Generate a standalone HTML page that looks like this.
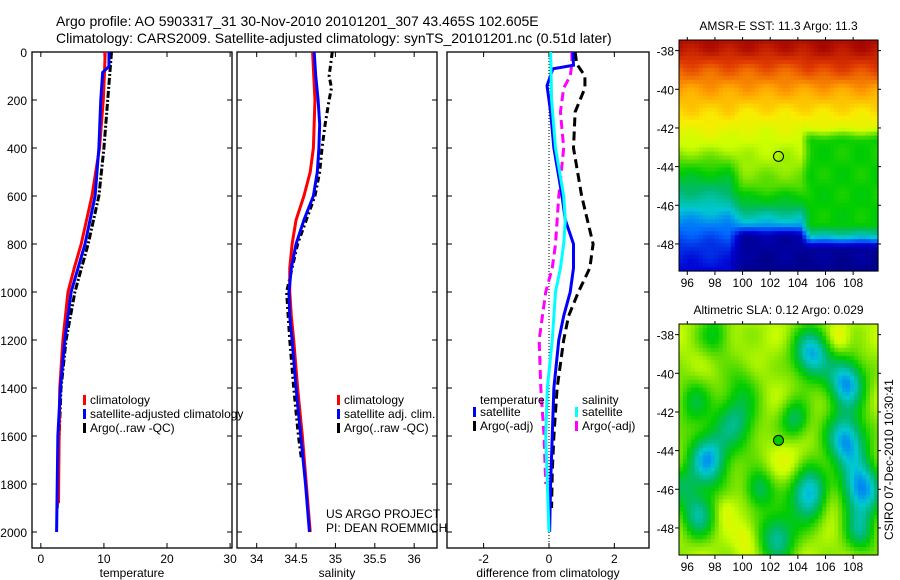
<!DOCTYPE html>
<html><head><meta charset="utf-8">
<style>
body{margin:0;background:#fff;}
svg{display:block;font-family:"Liberation Sans",sans-serif;}
</style></head>
<body>
<svg id="fig" width="900" height="580" viewBox="0 0 900 580" xmlns="http://www.w3.org/2000/svg">
<text x="56" y="26" font-size="14">Argo profile: AO 5903317_31 30-Nov-2010 20101201_307 43.465S 102.605E</text>
<text x="56" y="43" font-size="14">Climatology: CARS2009. Satellite-adjusted climatology: synTS_20101201.nc (0.51d later)</text>
<g id="p1"></g>
<g id="p2"></g>
<g id="p3"></g>
<g id="m1"></g>
<g id="m2"></g>
<text transform="translate(893,540) rotate(-90)" font-size="12">CSIRO 07-Dec-2010 10:30:41</text>
</svg>
<script>
// ---- data ----
const depthTicks=[0,200,400,600,800,1000,1200,1400,1600,1800,2000];
const tempTicks=[0,10,20,30];
const salTicks=[34,34.5,35,35.5,36];
const diffTicks=[-2,0,2];
const tClimD=[0,80,200,400,600,800,900,1000,1200,1400,1600,1880];
const tClimV=[10.2,10.1,9.9,9.3,8.1,6.4,5.3,4.3,3.5,3.0,2.9,2.8];
const tSatD=[0,60,85,200,400,600,800,1000,1200,1400,1600,1800,2000];
const tSatV=[10.8,10.8,9.8,9.5,9.2,8.6,7.0,4.8,3.8,3.1,2.7,2.6,2.5];
const tArgoD=[0,100,200,400,600,800,1000,1200,1400,1600,1800,1900];
const tArgoV=[11.2,10.9,10.6,10.0,9.2,7.5,5.4,4.0,3.2,2.9,2.7,2.6];
const sClimD=[0,200,400,500,600,700,800,900,1000,1100,1200,1400,1600,1800,2000];
const sClimV=[34.71,34.74,34.72,34.68,34.6,34.5,34.45,34.42,34.42,34.44,34.47,34.52,34.58,34.63,34.68];
const sSatD=[0,100,200,300,400,500,600,700,800,900,1000,1100,1200,1400,1600,1800,2000];
const sSatV=[34.73,34.75,34.78,34.8,34.79,34.77,34.72,34.6,34.5,34.44,34.41,34.42,34.45,34.5,34.56,34.62,34.67];
const sArgoD=[0,100,150,200,300,400,500,600,700,800,900,1000,1100,1200,1400,1600,1700];
const sArgoV=[34.96,34.92,34.95,34.92,34.87,34.83,34.8,34.74,34.63,34.52,34.45,34.38,34.4,34.42,34.47,34.53,34.57];
const dTSatD=[0,55,70,140,250,400,600,700,800,900,1000,1100,1200,1400,1600,1800,2000];
const dTSatV=[0.73,0.75,0.12,-0.06,0.05,0.15,0.4,0.5,0.75,0.75,0.65,0.45,0.3,0.15,0.1,0.05,0.02];
const dSSatD=[0,200,400,600,700,800,900,1000,1200,1400,1600,1800,2000];
const dSSatV=[0.05,0.08,0.2,0.45,0.5,0.45,0.35,0.2,0.1,-0.05,-0.1,-0.05,0.0];
const dTArgoD=[0,50,100,150,250,400,600,800,900,1000,1100,1200,1400,1600,1750,1900];
const dTArgoV=[0.8,0.85,1.1,1.1,0.8,0.75,1.0,1.35,1.25,0.9,0.6,0.45,0.25,0.15,0.1,0.08];
const dSArgoD=[0,50,100,150,250,400,600,800,900,1000,1100,1200,1400,1600,1800];
const dSArgoV=[0.7,0.7,0.65,0.45,0.35,0.45,0.3,0.2,0.1,-0.1,-0.2,-0.3,-0.25,-0.15,-0.1];
const lonTicks=[96,98,100,102,104,106,108];
const latTicks=[-38,-40,-42,-44,-46,-48];

const NS='http://www.w3.org/2000/svg';
function mk(tag,attrs,parent){const e=document.createElementNS(NS,tag);for(const k in attrs)e.setAttribute(k,attrs[k]);parent.appendChild(e);return e;}
const plotTop=52,plotBot=548;
const yD=d=>52+d*0.24;

function panel(g,x0,x1,vmin,vmax,xt,xlabel,leftLabels){
  const xs=v=>x0+(v-vmin)/(vmax-vmin)*(x1-x0);
  const fr=mk('rect',{x:x0,y:plotTop,width:x1-x0,height:plotBot-plotTop,fill:'none',stroke:'#000','stroke-width':1.3},g);
  
  
  depthTicks.forEach(d=>{
    mk('line',{x1:x0,x2:x0+5,y1:yD(d),y2:yD(d),stroke:'#000'},g);
    mk('line',{x1:x1,x2:x1-5,y1:yD(d),y2:yD(d),stroke:'#000'},g);
    if(leftLabels){const t=mk('text',{x:x0-5,y:yD(d)+5,'font-size':12,'text-anchor':'end'},g);t.textContent=d;
      
      }
  });
  xt.forEach(v=>{
    mk('line',{x1:xs(v),x2:xs(v),y1:plotBot,y2:plotBot-5,stroke:'#000'},g);
    mk('line',{x1:xs(v),x2:xs(v),y1:plotTop,y2:plotTop+5,stroke:'#000'},g);
    const t=mk('text',{x:xs(v),y:plotBot+15,'font-size':12,'text-anchor':'middle'},g);t.textContent=v;
    
    
  });
  const xl=mk('text',{x:(x0+x1)/2,y:plotBot+29,'font-size':12,'text-anchor':'middle'},g);xl.textContent=xlabel;
  
  
  return xs;
}
function line(g,xs,D,V,color,dash,name,w){
  const p=mk('polyline',{points:D.map((d,i)=>xs(V[i])+','+yD(d)).join(' '),fill:'none',stroke:color,'stroke-width':w||3,'stroke-dasharray':dash||'none'},g);
  
  
}
function legend(g,x,y,items){
  items.forEach((it,i)=>{
    mk('rect',{x:x,y:y+i*14-9,width:3,height:10,fill:it[1]},g);
    const t=mk('text',{x:x+7,y:y+i*14,'font-size':12},g);t.textContent=it[0];
    
    
  });
}
// panel 1
const g1=document.getElementById('p1');
const xs1=panel(g1,32,232,-1.4,30.3,tempTicks,'temperature',true);
line(g1,xs1,tArgoD,tArgoV,'#000','7,2,2,2','argo-temperature-line');
line(g1,xs1,tClimD,tClimV,'#f00',null,'climatology-temperature-line');
line(g1,xs1,tSatD,tSatV,'#00f',null,'satellite-temperature-line');
legend(g1,83,404,[['climatology','#f00'],['satellite-adjusted climatology','#00f'],['Argo(..raw -QC)','#000']]);
// panel 2
const g2=document.getElementById('p2');
const xs2=panel(g2,237,437,33.75,36.29,salTicks,'salinity',false);
line(g2,xs2,sArgoD,sArgoV,'#000','6,3,2,3','argo-salinity-line');
line(g2,xs2,sClimD,sClimV,'#f00',null,'climatology-salinity-line');
line(g2,xs2,sSatD,sSatV,'#00f',null,'satellite-salinity-line');
legend(g2,337,404,[['climatology','#f00'],['satellite adj. clim.','#00f'],['Argo(..raw -QC)','#000']]);
const pi1=mk('text',{x:326,y:518,'font-size':12},g2);pi1.textContent='US ARGO PROJECT';


const pi2=mk('text',{x:326,y:532,'font-size':12},g2);pi2.textContent='PI: DEAN ROEMMICH';


// panel 3
const g3=document.getElementById('p3');
const xs3=panel(g3,447,649,-3.12,3.06,diffTicks,'difference from climatology',false);
mk('line',{x1:xs3(0),x2:xs3(0),y1:plotTop,y2:plotBot,stroke:'#000','stroke-dasharray':'1,2'},g3);
line(g3,xs3,dTArgoD,dTArgoV,'#000','9,5','argo-temperature-diff-line');
line(g3,xs3,dSArgoD,dSArgoV,'#f0f','9,5','argo-salinity-diff-line');
line(g3,xs3,dTSatD,dTSatV,'#00f',null,'satellite-temperature-diff-line');
line(g3,xs3,dSSatD,dSSatV,'#0ff',null,'satellite-salinity-diff-line');
const lt=mk('text',{x:480,y:404,'font-size':12},g3);lt.textContent='temperature';


const ls=mk('text',{x:582,y:404,'font-size':12},g3);ls.textContent='salinity';


legend(g3,473,416,[['satellite','#00f'],['Argo(-adj)','#000']]);
legend(g3,575,416,[['satellite','#0ff'],['Argo(-adj)','#f0f']]);

// maps
const cmStops=[[0,[0,0,120]],[0.12,[0,0,210]],[0.24,[0,110,255]],[0.34,[0,200,210]],[0.43,[0,185,110]],[0.52,[0,205,0]],[0.6,[110,225,0]],[0.67,[205,255,0]],[0.74,[250,235,0]],[0.82,[255,160,0]],[0.91,[225,60,0]],[1,[160,0,0]]];
function cmap(v){v=Math.max(0,Math.min(1,v));
  for(let i=1;i<cmStops.length;i++){if(v<=cmStops[i][0]){const a=cmStops[i-1],b=cmStops[i],f=(v-a[0])/(b[0]-a[0]);
    return 'rgb('+a[1].map((c,k)=>Math.round(c+(b[1][k]-c)*f)).join(',')+')';}}
  return 'rgb(160,0,0)';}
function map(g,x0,y0,title,field,dotColor,name){
  const w=199,h=231,lonMin=95.4,lonMax=109.8,latTop=-37.45,latBot=-49.4;
  const xs=l=>x0+(l-lonMin)/(lonMax-lonMin)*w, ys=l=>y0+(latTop-l)/(latTop-latBot)*h;
  const nx=50,ny=58;
  for(let i=0;i<nx;i++)for(let j=0;j<ny;j++){
    const lon=lonMin+(i+0.5)/nx*(lonMax-lonMin), lat=latTop-(j+0.5)/ny*(latTop-latBot);
    mk('rect',{x:x0+i*w/nx,y:y0+j*h/ny,width:w/nx+0.6,height:h/ny+0.6,fill:cmap(field(lon,lat))},g);
  }
  const fr=mk('rect',{x:x0,y:y0,width:w,height:h,fill:'none',stroke:'#000'},g);
  
  
  lonTicks.forEach(l=>{mk('line',{x1:xs(l),x2:xs(l),y1:y0+h,y2:y0+h+4,stroke:'#000'},g);
    mk('line',{x1:xs(l),x2:xs(l),y1:y0,y2:y0-3,stroke:'#000'},g);
    const t=mk('text',{x:xs(l),y:y0+h+16,'font-size':12,'text-anchor':'middle'},g);t.textContent=l;
    
    });
  latTicks.forEach(l=>{mk('line',{x1:x0,x2:x0-4,y1:ys(l),y2:ys(l),stroke:'#000'},g);
    mk('line',{x1:x0+w,x2:x0+w+3,y1:ys(l),y2:ys(l),stroke:'#000'},g);
    const t=mk('text',{x:x0-5,y:ys(l)+5,'font-size':12,'text-anchor':'end'},g);t.textContent=l;
    
    });
  const tt=mk('text',{x:x0+w/2,y:y0-10,'font-size':12,'text-anchor':'middle'},g);tt.textContent=title;
  
  
  const c=mk('circle',{cx:xs(102.6),cy:ys(-43.47),r:5,fill:dotColor,stroke:'#000'},g);
  
  
}
function bump(lon,lat,cx,cy,s){const d=((lon-cx)**2+(lat-cy)**2)/(s*s);return Math.exp(-d);}
function interp(X,Y,x){for(let i=1;i<X.length;i++){if(x>=X[i]){const f=(x-X[i-1])/(X[i]-X[i-1]);return Y[i-1]+(Y[i]-Y[i-1])*f;}}return Y[Y.length-1];}
// SST latitude profiles per sector (west / middle / east)
const sstLatW=[-37,-38,-39,-40,-42,-43,-44,-45,-46,-47,-48,-50];
const sstValW=[1.0,0.96,0.88,0.82,0.72,0.66,0.55,0.45,0.36,0.26,0.18,0.1];
const sstLatM=[-37,-38,-39,-40,-42,-43,-44,-45,-46,-47,-47.6,-50];
const sstValM=[1.0,0.96,0.88,0.82,0.7,0.66,0.63,0.58,0.47,0.3,0.06,0.02];
const sstLatE=[-37,-38,-39,-40,-42,-42.6,-47,-47.6,-48.2,-50];
const sstValE=[1.0,0.97,0.9,0.82,0.7,0.53,0.52,0.36,0.05,0.02];
map(document.getElementById('m1'),679,40,'AMSR-E SST: 11.3 Argo: 11.3',(lon,lat)=>{
  const w=interp(sstLatW,sstValW,lat), m=interp(sstLatM,sstValM,lat), e=interp(sstLatE,sstValE,lat);
  let v;
  if(lon<99)v=w; else if(lon<100){const f=lon-99;v=w*(1-f)+m*f;}
  else if(lon<104.2)v=m; else if(lon<104.9){const f=(lon-104.2)/0.7;v=m*(1-f)+e*f;} else v=e;
  return v+0.015*Math.sin(lon*2.3)*Math.cos(lat*2.9);},'none','sst-map');
const blobs=[[105,-39,0.34,1.3],[107.5,-40.5,0.36,1.3],[99.5,-42.5,0.22,1.5],[103.8,-42.4,0.2,1.0],[107.5,-43.5,0.36,1.4],[97.5,-44.5,0.34,1.4],[108.6,-46,0.38,1.4],[104.8,-46.2,0.36,1.4],[96.8,-47.3,0.25,1.2],[102.5,-48.5,0.26,1.3],[101.2,-46,0.2,1.0],[98,-38,0.14,1.1],[96.5,-41.5,0.15,1.2],[108.5,-48.2,0.2,1.1],[100,-40.5,0.08,1.2],[95.6,-45.8,0.14,1]];
const warm=[[106.3,-46.5,0.1,1],[103.7,-44.8,0.08,1.2],[107,-38.2,0.08,0.8],[100.3,-48.5,0.07,0.9],[98.7,-47,0.06,0.8]];
map(document.getElementById('m2'),679,324,'Altimetric SLA: 0.12 Argo: 0.029',(lon,lat)=>{
  let v=0.645+0.025*Math.sin(lon*1.7)*Math.cos(lat*1.9);
  blobs.forEach(b=>v-=b[2]*bump(lon,lat,b[0],b[1],b[3]));
  warm.forEach(b=>v+=b[2]*bump(lon,lat,b[0],b[1],b[3]));
  return v;},'#0c0','sla-map');
</script>
</body></html>
